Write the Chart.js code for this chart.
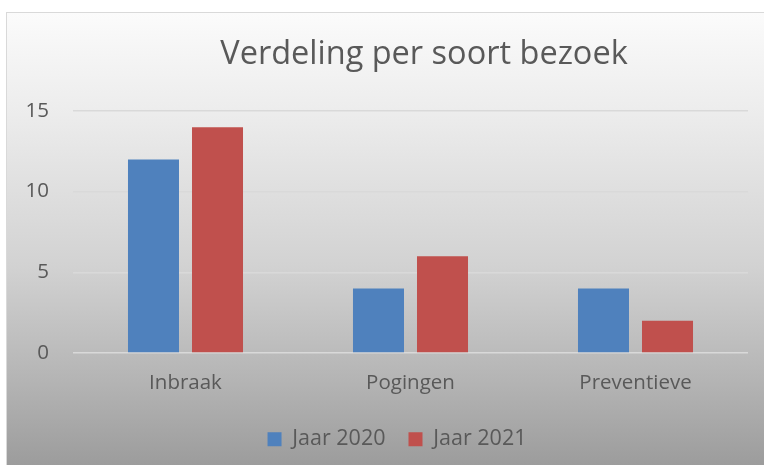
<!DOCTYPE html>
<html>
<head>
<meta charset="utf-8">
<script src="https://cdn.jsdelivr.net/npm/chart.js@4"></script>
<style>
    html, body { margin: 0; padding: 0; width: 764px; height: 465px; overflow: hidden; background: #fff; }
    #frame {
        position: absolute; left: 6px; top: 12px; width: 800px; height: 460px;
        border-top: 1px solid #d9d9d9; border-left: 1px solid #d9d9d9;
        background: linear-gradient(#fbfbfb 0%, #ececec 22%, #d2d2d2 55%, #b4b4b4 80%, #9a9a9a 100%);
    }
    #wrap { position: absolute; left: 20px; top: 13px; width: 756px; height: 452px; }
</style>
</head>
<body>
<div id="frame"></div>
<div id="wrap"><canvas id="chart"></canvas></div>
<script>
const titleText = 'Verdeling per soort bezoek';
const categories = ['Inbraak', 'Pogingen', 'Preventieve'];
const seriesNames = ['Jaar 2020', 'Jaar 2021'];
const jaar2020 = [12, 4, 4];
const jaar2021 = [14, 6, 2];
const yTicks = [0, 5, 10, 15];

const textColor = '#595959';
const fontFamily = '"Open Sans", sans-serif';

// title and legend in the original are not centred on the same line, nudge them
const boxShift = {
    id: 'boxShift',
    afterLayout(chart) {
        chart.titleBlock.left += 40;
        chart.titleBlock.right += 40;
        chart.legend.left += 13;
        chart.legend.right += 13;
    }
};

new Chart(document.getElementById('chart').getContext('2d'), {
    type: 'bar',
    data: {
        labels: categories,
        datasets: [{
            label: seriesNames[0],
            data: jaar2020,
            backgroundColor: '#4f81bd',
            barPercentage: 0.797,
            categoryPercentage: 0.569
        }, {
            label: seriesNames[1],
            data: jaar2021,
            backgroundColor: '#c0504d',
            barPercentage: 0.797,
            categoryPercentage: 0.569
        }]
    },
    options: {
        responsive: true,
        maintainAspectRatio: false,
        animation: false,
        layout: {
            padding: { top: 12, right: 28, bottom: 5, left: 0 }
        },
        scales: {
            x: {
                grid: { display: false },
                border: { display: false },
                ticks: {
                    color: textColor,
                    font: { family: fontFamily, size: 20.5 },
                    padding: 10
                }
            },
            y: {
                min: 0,
                max: 15,
                afterFit(scale) {
                    scale.width = 53;
                },
                afterBuildTicks(scale) {
                    scale.ticks = yTicks.map(v => ({ value: v }));
                },
                grid: {
                    color: '#d9d9d9',
                    lineWidth: 1.4,
                    drawTicks: false
                },
                border: { display: false },
                ticks: {
                    color: textColor,
                    font: { family: fontFamily, size: 20.5 },
                    padding: 24
                }
            }
        },
        plugins: {
            title: {
                display: true,
                text: titleText,
                color: textColor,
                font: { family: fontFamily, size: 32.5, weight: 'normal' },
                padding: { top: 10, bottom: 37 }
            },
            legend: {
                position: 'bottom',
                labels: {
                    color: textColor,
                    font: { family: fontFamily, size: 21.5 },
                    boxWidth: 14,
                    boxHeight: 14,
                    padding: 23
                }
            },
            tooltip: { enabled: false }
        }
    },
    plugins: [boxShift]
});
</script>
</body>
</html>
